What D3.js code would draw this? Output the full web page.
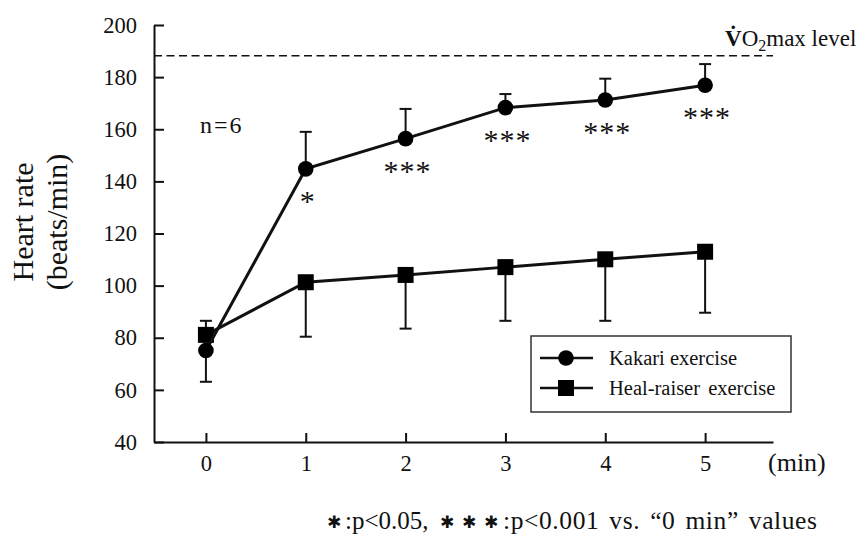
<!DOCTYPE html>
<html>
<head>
<meta charset="utf-8">
<script src="https://cdn.jsdelivr.net/npm/d3@7"></script>
<style>
  html, body { margin: 0; padding: 0; background: #fff; }
  svg { display: block; }
  svg text { font-family: "Liberation Serif", Tinos, "DejaVu Serif", serif; fill: #111; }
</style>
</head>
<body>
<svg id="chart" width="859" height="537"></svg>
<script>
// ---- Data ----
const minutes = [0, 1, 2, 3, 4, 5];
const kakariMean = [75.1, 144.8, 156.4, 168.3, 171.2, 176.9];
const kakariSD   = [12.0, 14.2, 11.4, 5.2, 8.2, 8.1];
const kakariErrDir = [-1, 1, 1, 1, 1, 1];   // -1 = bar drawn downward, 1 = upward
const healMean = [81.1, 101.3, 104.1, 107.1, 110.1, 113.0];
const healSD   = [5.4, 20.9, 20.6, 20.6, 23.6, 23.4];
const healErrDir = [1, -1, -1, -1, -1, -1];
const significance = ["", "*", "***", "***", "***", "***"];
const yTicks = [40, 60, 80, 100, 120, 140, 160, 180, 200];
const xTicks = [0, 1, 2, 3, 4, 5];
const vo2maxLevel = 188.2;
const seriesNames = ["Kakari exercise", "Heal-raiser exercise"];

const SERIF = '"Liberation Serif", Tinos, "DejaVu Serif", serif';

// ---- Scales ----
const svg = d3.select("#chart");
const x = d3.scaleLinear().domain([-0.52, 5.68]).range([154, 773]);
const y = d3.scaleLinear().domain([40, 200]).range([442, 25]);

// ---- Axes ----
const yAxis = d3.axisLeft(y).tickValues(yTicks).tickFormat(d3.format("d"))
  .tickSize(-10).tickSizeOuter(0).tickPadding(17);
const gy = svg.append("g").attr("transform", `translate(${x.range()[0]},0)`).call(yAxis);
gy.attr("font-family", null).attr("font-size", null);
gy.selectAll("text").style("font-family", SERIF).style("font-size", "22.5px").attr("fill", "#111");
gy.selectAll("path, line").attr("stroke", "#111").attr("stroke-width", 2);

const xAxis = d3.axisBottom(x).tickValues(xTicks).tickFormat(d3.format("d"))
  .tickSize(-9).tickSizeOuter(0).tickPadding(13);
const gx = svg.append("g").attr("transform", `translate(0,${y.range()[0]})`).call(xAxis);
gx.attr("font-family", null).attr("font-size", null);
gx.selectAll("text").style("font-family", SERIF).style("font-size", "22.5px").attr("fill", "#111");
gx.selectAll("path, line").attr("stroke", "#111").attr("stroke-width", 2);

svg.append("text").attr("x", 768).attr("y", 471).style("font-size", "26px").text("(min)");

// Y label
const yl = svg.append("text")
  .attr("transform", `translate(33,222) rotate(-90)`)
  .attr("text-anchor", "middle").style("font-size", "30px").style("fill", "#111");
yl.append("tspan").attr("x", 0).attr("dy", 0).text("Heart rate");
yl.append("tspan").attr("x", 0).attr("dy", 34).text("(beats/min)");

// ---- VO2max dashed line ----
svg.append("line")
  .attr("x1", x.range()[0]).attr("x2", x.range()[1])
  .attr("y1", y(vo2maxLevel)).attr("y2", y(vo2maxLevel))
  .attr("stroke", "#111").attr("stroke-width", 1.6).attr("stroke-dasharray", "8,4.5");

const vl = svg.append("text").attr("x", 725).attr("y", 46).style("font-size", "23px");
vl.append("tspan").style("font-weight", "bold").text("V\u0307");
vl.append("tspan").text("O");
vl.append("tspan").style("font-size", "16px").attr("dy", 5).text("2");
vl.append("tspan").attr("dy", -5).text("max level");

svg.append("text").attr("x", 200).attr("y", 133).style("font-size", "24px").attr("letter-spacing", "2px").text("n=6");

// ---- Series ----
function drawSeries(mean, sd, dir, shape) {
  const pts = minutes.map((m, i) => ({ m, v: mean[i], e: mean[i] + dir[i] * sd[i] }));
  const g = svg.append("g");
  g.selectAll("line.err").data(pts).enter().append("line")
    .attr("x1", d => x(d.m)).attr("x2", d => x(d.m))
    .attr("y1", d => y(d.v)).attr("y2", d => y(d.e))
    .attr("stroke", "#111").attr("stroke-width", 2);
  g.selectAll("line.cap").data(pts).enter().append("line")
    .attr("x1", d => x(d.m) - 6).attr("x2", d => x(d.m) + 6)
    .attr("y1", d => y(d.e)).attr("y2", d => y(d.e))
    .attr("stroke", "#111").attr("stroke-width", 2);
  g.append("path").datum(pts)
    .attr("d", d3.line().x(d => x(d.m)).y(d => y(d.v)))
    .attr("fill", "none").attr("stroke", "#111").attr("stroke-width", 3);
  if (shape === "circle") {
    g.selectAll("circle").data(pts).enter().append("circle")
      .attr("cx", d => x(d.m)).attr("cy", d => y(d.v)).attr("r", 7.8).attr("fill", "#000");
  } else {
    g.selectAll("rect.mk").data(pts).enter().append("rect")
      .attr("x", d => x(d.m) - 8).attr("y", d => y(d.v) - 8)
      .attr("width", 16).attr("height", 16).attr("fill", "#000");
  }
  return pts;
}
drawSeries(healMean, healSD, healErrDir, "square");
const kPts = drawSeries(kakariMean, kakariSD, kakariErrDir, "circle");

// significance marks
svg.selectAll("text.sig").data(kPts.filter((d, i) => significance[i])).enter().append("text")
  .attr("x", d => x(d.m) + 2).attr("y", d => y(d.v) + 42)
  .attr("text-anchor", "middle").style("font-size", "30px").attr("letter-spacing", "1px")
  .text(d => significance[minutes.indexOf(d.m)]);

// ---- Legend ----
const lg = svg.append("g");
lg.append("rect").attr("x", 531).attr("y", 336).attr("width", 260).attr("height", 76)
  .attr("fill", "#fff").attr("stroke", "#333").attr("stroke-width", 1.5);
const rows = [358, 388];
seriesNames.forEach((name, i) => {
  lg.append("line").attr("x1", 540).attr("x2", 593).attr("y1", rows[i]).attr("y2", rows[i])
    .attr("stroke", "#111").attr("stroke-width", 2.5);
  if (i === 0) lg.append("circle").attr("cx", 566).attr("cy", rows[i]).attr("r", 7.8).attr("fill", "#000");
  else lg.append("rect").attr("x", 558).attr("y", rows[i] - 8).attr("width", 16).attr("height", 16).attr("fill", "#000");
  lg.append("text").attr("x", 609).attr("y", rows[i] + 7).style("font-size", "20.5px").attr("word-spacing", i === 1 ? "3px" : "0px").text(name);
});

// ---- Footnote ----
const fnY = 529;
const star = (xx) => svg.append("text").attr("x", xx).attr("y", fnY - 1)
  .style("font-family", "DejaVu Sans").style("font-size", "17px").text("\u2731");
star(327);
svg.append("text").attr("x", 345).attr("y", fnY).style("font-size", "25px").text(":p<0.05,");
star(440); star(462); star(484);
svg.append("text").attr("x", 503).attr("y", fnY).style("font-size", "25.5px")
  .attr("letter-spacing", "0.6px").attr("word-spacing", "3px")
  .text(":p<0.001 vs. \u201C0 min\u201D values");
</script>
</body>
</html>
